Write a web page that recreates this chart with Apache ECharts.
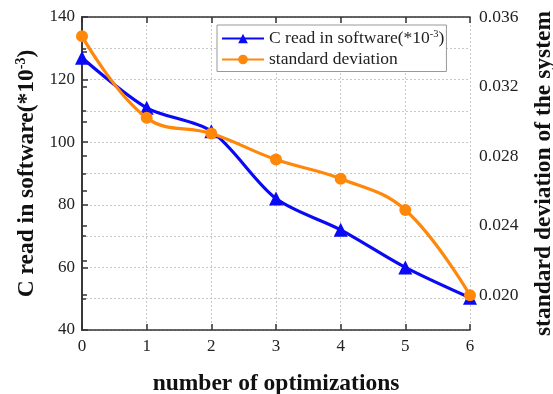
<!DOCTYPE html>
<html>
<head>
<meta charset="utf-8">
<script src="https://cdn.jsdelivr.net/npm/echarts@6/dist/echarts.min.js"></script>
<style>
    html, body { margin: 0; padding: 0; background: #fff; }
    #chart { width: 553px; height: 394px; }
</style>
</head>
<body>
<div id="chart"></div>
<script>
    // number of optimizations
    var optimizations = [0, 1, 2, 3, 4, 5, 6];
    // C read in software (*10^-3), left axis
    var cRead = [127, 111, 103.5, 82, 72, 60, 50.3];
    // standard deviation of the system, right axis
    var stdDev = [0.0349, 0.0302, 0.0293, 0.0278, 0.0267, 0.0249, 0.0200];
    // right axis ticks and labels
    var rightTicks = [0.020, 0.022, 0.024, 0.026, 0.028, 0.030, 0.032, 0.034, 0.036];
    var rightLabels = [0.020, 0.024, 0.028, 0.032, 0.036];

    var serif = 'Liberation Serif';

    function pairs (xs, ys) {
        return xs.map(function (x, i) { return [x, ys[i]]; });
    }

    var myChart = echarts.init(document.getElementById('chart'));

    var gridLine = {
        show: true,
        lineStyle: { color: '#c8c8c8', type: [2, 2], width: 1 }
    };
    var axisLine = { show: true, lineStyle: { color: '#333', width: 1.6 } };
    var tickStyle = { color: '#333', width: 1.5 };
    var titleStyle = { fontFamily: serif, fontSize: 23.5, fontWeight: 'bold', color: '#111' };

    var options = {
        animation: false,
        backgroundColor: '#fff',
        grid: { left: 82, top: 17, width: 388, height: 313, outerBoundsMode: 'none' },
        legend: {
            orient: 'vertical',
            left: 217,
            top: 25,
            padding: [4, 2, 3, 4],
            itemGap: 3,
            itemWidth: 42,
            itemHeight: 12,
            borderColor: '#999',
            borderWidth: 1,
            backgroundColor: '#fff',
            textStyle: {
                fontFamily: serif,
                fontSize: 17.5,
                color: '#222',
                rich: {
                    t: { fontFamily: serif, fontSize: 17.5, color: '#222' },
                    sup: { fontFamily: serif, fontSize: 10.5, color: '#222', verticalAlign: 'top', padding: [0, 0, 8, 0] }
                }
            },
            formatter: function (name) {
                if (name.indexOf('C read') === 0) {
                    return '{t|C read in software(*10}{sup|-3}{t|)}';
                }
                return '{t|' + name + '}';
            },
            data: ['C read in software', 'standard deviation']
        },
        xAxis: [{
            type: 'value',
            min: 0,
            max: 6,
            interval: 1,
            name: 'number of optimizations',
            nameLocation: 'middle',
            nameGap: 42,
            nameTextStyle: titleStyle,
            axisLine: axisLine,
            axisTick: { show: true, inside: true, length: 6, lineStyle: tickStyle },
            axisLabel: { fontFamily: serif, fontSize: 17, color: '#222', margin: 8 },
            splitLine: gridLine
        }, {
            type: 'value',
            position: 'top',
            min: 0,
            max: 6,
            interval: 1,
            axisLine: axisLine,
            axisTick: { show: true, inside: true, length: 6, lineStyle: tickStyle },
            axisLabel: { show: false },
            splitLine: { show: false }
        }],
        yAxis: [{
            type: 'value',
            min: 40,
            max: 140,
            interval: 20,
            name: '{t|C read in software(*10}{sup|-3}{t|)}',
            nameLocation: 'middle',
            nameRotate: 90,
            nameGap: 41,
            nameTextStyle: {
                rich: {
                    t: titleStyle,
                    sup: { fontFamily: serif, fontSize: 14, fontWeight: 'bold', color: '#111', verticalAlign: 'top', padding: [0, 0, 11, 0] }
                }
            },
            axisLine: axisLine,
            axisTick: { show: true, inside: true, length: 6, lineStyle: tickStyle },
            minorTick: { show: true, splitNumber: 2, length: 4, lineStyle: tickStyle },
            axisLabel: { fontFamily: serif, fontSize: 17, color: '#222', margin: 7 },
            splitLine: gridLine,
            minorSplitLine: gridLine
        }, {
            type: 'value',
            position: 'right',
            min: 0.018,
            max: 0.036,
            name: 'standard deviation of the system',
            nameLocation: 'middle',
            nameRotate: 90,
            nameGap: 62,
            nameTextStyle: titleStyle,
            axisLine: axisLine,
            axisTick: { show: true, inside: false, length: 5, customValues: rightTicks, lineStyle: tickStyle },
            axisLabel: {
                fontFamily: serif, fontSize: 17.5, color: '#222', margin: 9,
                customValues: rightLabels,
                formatter: function (v) { return v.toFixed(3); }
            },
            splitLine: { show: false }
        }],
        series: [{
            name: 'C read in software',
            type: 'line',
            xAxisIndex: 0,
            yAxisIndex: 0,
            smooth: 0.3,
            symbol: 'triangle',
            symbolSize: 14,
            itemStyle: { color: '#0a0af5' },
            lineStyle: { color: '#0a0af5', width: 3.2 },
            data: pairs(optimizations, cRead),
            z: 3
        }, {
            name: 'standard deviation',
            type: 'line',
            xAxisIndex: 0,
            yAxisIndex: 1,
            smooth: 0.4,
            symbol: 'circle',
            symbolSize: 12,
            itemStyle: { color: '#ff870a' },
            lineStyle: { color: '#ff870a', width: 3.2 },
            data: pairs(optimizations, stdDev),
            z: 4
        }]
    };
    myChart.setOption(options);
</script>
</body>
</html>
